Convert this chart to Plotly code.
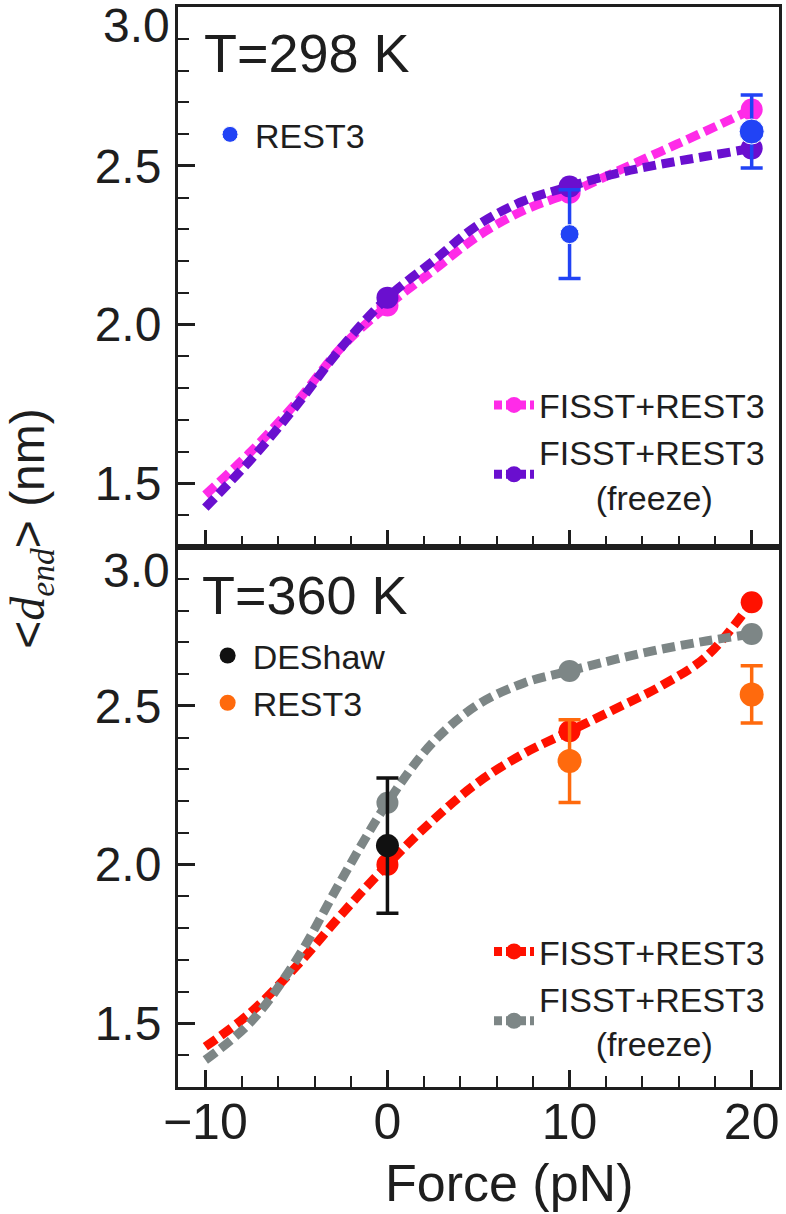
import plotly.graph_objects as go
from plotly.subplots import make_subplots

# fuerza (pN) donde se lee la curva suavizada y donde estan los puntos
force_curve = [-10, -7.5, -5, -2.5, 0, 2.5, 5, 7.5, 10, 12.5, 15, 17.5, 20]
force_pts = [0, 10, 20]

# T = 298 K
fisst_298_curve = [1.464, 1.60, 1.755, 1.93, 2.06, 2.17, 2.28, 2.36, 2.415, 2.48, 2.545, 2.61, 2.677]
freeze_298_curve = [1.424, 1.575, 1.745, 1.93, 2.085, 2.20, 2.315, 2.39, 2.435, 2.475, 2.505, 2.53, 2.555]
fisst_298_pts = [2.06, 2.415, 2.677]
freeze_298_pts = [2.085, 2.435, 2.555]
rest3_298_x = [10, 20]
rest3_298_y = [2.285, 2.608]
rest3_298_err = [0.14, 0.115]

# T = 360 K
fisst_360_curve = [1.427, 1.535, 1.68, 1.845, 2.0, 2.14, 2.26, 2.35, 2.42, 2.49, 2.562, 2.655, 2.826]
freeze_360_curve = [1.385, 1.505, 1.70, 1.955, 2.195, 2.385, 2.505, 2.572, 2.61, 2.646, 2.678, 2.704, 2.726]
fisst_360_pts = [2.0, 2.42, 2.826]
freeze_360_pts = [2.195, 2.61, 2.726]
deshaw_x = [0]
deshaw_y = [2.06]
deshaw_err = [0.213]
rest3_360_x = [10, 20]
rest3_360_y = [2.326, 2.536]
rest3_360_err = [0.13, 0.09]

FONT = "Liberation Sans, Arial, sans-serif"
INK = "#1e1e1e"
DASH = "13px,6px"

fig = make_subplots(rows=2, cols=1, shared_xaxes=True, vertical_spacing=0)


def curva(row, xs, ys, xp, yp, color, name, leg):
    # linea suavizada
    fig.add_trace(go.Scatter(x=xs, y=ys, mode="lines", line=dict(color=color, width=9, dash=DASH, shape="spline"),
                             showlegend=False, hoverinfo="skip"), row=row, col=1)
    # puntos
    fig.add_trace(go.Scatter(x=xp, y=yp, mode="markers", marker=dict(color=color, size=22, opacity=1),
                             showlegend=False), row=row, col=1)
    # entrada de leyenda
    fig.add_trace(go.Scatter(x=[None], y=[None], mode="lines+markers", name=name, legend=leg,
                             line=dict(color=color, width=9, dash="8px,4px"),
                             marker=dict(color=color, size=18, opacity=1)),
                  row=row, col=1)


def barras(row, xs, ys, err, color, size, name, leg):
    fig.add_trace(go.Scatter(x=xs, y=ys, mode="markers", name=name, legend=leg,
                             marker=dict(color=color, size=size, opacity=1),
                             error_y=dict(type="data", array=err, color=color, thickness=3.5, width=11)),
                  row=row, col=1)


freeze_txt = "FISST+REST3<br>" + "\u00a0" * 6 + "(freeze)"

# panel superior
curva(1, force_curve, fisst_298_curve, force_pts, fisst_298_pts, "#ff2be8", "FISST+REST3", "legend2")
curva(1, force_curve, freeze_298_curve, force_pts, freeze_298_pts, "#6a0fcf", freeze_txt, "legend2")
barras(1, rest3_298_x, rest3_298_y, rest3_298_err, "#2143f5", [19, 25], "REST3", "legend")

# panel inferior
curva(2, force_curve, fisst_360_curve, force_pts, fisst_360_pts, "#ff1100", "FISST+REST3", "legend4")
curva(2, force_curve, freeze_360_curve, force_pts, freeze_360_pts, "#7d8686", freeze_txt, "legend4")
barras(2, rest3_360_x, rest3_360_y, rest3_360_err, "#ff6a0d", 24, "REST3", "legend3")
barras(2, deshaw_x, deshaw_y, deshaw_err, "#111111", 23, "DEShaw", "legend3")

ejes_x = dict(range=[-11.5, 21.5], tick0=0, dtick=10, ticks="inside", ticklen=17, tickwidth=2.5, tickcolor=INK,
              showline=True, linewidth=3, linecolor=INK, mirror=True, showgrid=False, zeroline=False,
              minor=dict(ticks="inside", tick0=0, dtick=2, ticklen=11, tickwidth=2, tickcolor=INK, showgrid=False))
ejes_y = dict(range=[1.3, 3.0], tickvals=[1.5, 2.0, 2.5], tickformat=".1f", ticks="inside", ticklen=17,
              tickwidth=2.5, tickcolor=INK, showline=True, linewidth=3, linecolor=INK, mirror=True,
              showgrid=False, zeroline=False, tickfont=dict(size=48, color=INK), ticklabelstandoff=4,
              minor=dict(ticks="inside", tickmode="linear", tick0=0, dtick=0.1, ticklen=11, tickwidth=2,
                         tickcolor=INK, showgrid=False))

fig.update_xaxes(**ejes_x)
fig.update_xaxes(showticklabels=False, row=1, col=1)
fig.update_xaxes(tickfont=dict(size=50, color=INK), ticklabelstandoff=-11, row=2, col=1)
fig.update_yaxes(**ejes_y)

leg = dict(font=dict(size=34, color=INK, family=FONT), bgcolor="rgba(0,0,0,0)", itemwidth=40)
fig.update_layout(
    width=786, height=1214,
    margin=dict(l=178, r=4, t=5, b=127),
    paper_bgcolor="white", plot_bgcolor="white",
    font=dict(family=FONT, color=INK),
    legend=dict(leg, x=0.045, y=0.8817, xanchor="left", yanchor="middle"),
    legend2=dict(leg, x=0.985, y=0.658, xanchor="right", yanchor="top"),
    legend3=dict(leg, x=0.041, y=0.426, xanchor="left", yanchor="top", traceorder="reversed"),
    legend4=dict(leg, x=0.985, y=0.152, xanchor="right", yanchor="top"),
)

# textos
fig.add_annotation(text="T=298 K", xref="paper", yref="paper", x=0.0397, y=0.9575, xanchor="left",
                   yanchor="middle", showarrow=False, font=dict(size=54, color=INK))
fig.add_annotation(text="T=360 K", xref="paper", yref="paper", x=0.0364, y=0.4556, xanchor="left",
                   yanchor="middle", showarrow=False, font=dict(size=54, color=INK))
fig.add_annotation(text="3.0", xref="paper", yref="y", x=0, y=3.0, xanchor="right", yanchor="top",
                   xshift=-6, yshift=10, showarrow=False, font=dict(size=48, color=INK))
fig.add_annotation(text="3.0", xref="paper", yref="y2", x=0, y=3.0, xanchor="right", yanchor="top",
                   xshift=-6, yshift=5, showarrow=False, font=dict(size=48, color=INK))
fig.add_annotation(text="Force (pN)", xref="paper", yref="paper", x=0.55, y=-0.0887, xanchor="center",
                   yanchor="middle", showarrow=False, font=dict(size=52, color=INK))
fig.add_annotation(
    text="&lt;<span style='font-family:Liberation Serif'><i>d<sub>end</sub></i></span>&gt; (nm)",
    xref="paper", yref="paper", x=-0.245, y=0.5176, xanchor="center", yanchor="middle", textangle=-90,
    showarrow=False, font=dict(size=48, color=INK))

# sin margen del body para que la figura quede en (0, 0)
fig.write_html("out.html", config={"displayModeBar": False},
               post_script="document.body.style.margin='0px';")
